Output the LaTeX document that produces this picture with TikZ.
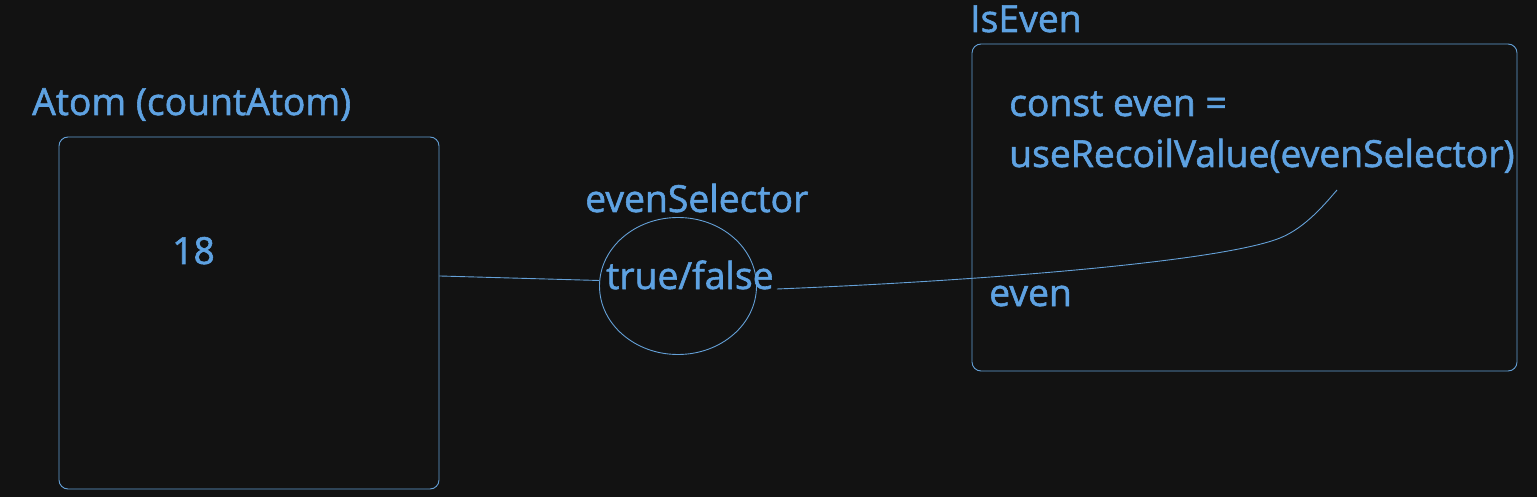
\documentclass[tikz,border=0pt]{standalone}
\usepackage{fontspec}
\newfontfamily\drawfont{Open Sans}[FakeBold=1.5]
\usetikzlibrary{shapes.geometric}
\definecolor{bg}{RGB}{18,18,18}
\definecolor{ink}{RGB}{94,162,226}
\definecolor{edge}{RGB}{100,160,215}
\tikzset{
  lbl/.style={anchor=base west,inner sep=0pt,text=ink,font=\drawfont\fontsize{37.3}{44}\selectfont},
  boxshape/.style={draw=edge,line width=0.9pt,rounded corners=9pt,inner sep=0pt},
  conn/.style={draw=edge,line width=0.9pt},
}
\begin{document}
\begin{tikzpicture}[x=1pt,y=-1pt]
\fill[bg] (0,0) rectangle (1537,497);
\useasboundingbox (0,0) rectangle (1537,497);
% left atom box
\node[lbl] (atomtitle) at (32,115) {Atom (countAtom)};
\node[boxshape,minimum width=380pt,minimum height=352pt] (atom) at (249,313) {};
\node[lbl] (num) at (172,264) {18};
% selector
\node[lbl] (seltitle) at (585,212) {evenSelector};
\node[draw=edge,line width=0.9pt,ellipse,minimum width=157pt,minimum height=137pt,inner sep=0pt] (sel) at (678,286) {};
\node[lbl] (tf) at (606,289) {true/false};
% right box
\node[lbl] (eventitle) at (970,32) {IsEven};
\node[boxshape,minimum width=545pt,minimum height=327pt] (isev) at (1244.5,207.5) {};
\node[lbl] (code1) at (1009,116) {const even =};
\node[lbl] (code2) at (1009,167) {useRecoilValue(evenSelector)};
\node[lbl] (evenlbl) at (989,306) {even};
\coordinate (hook) at (1337,190);
% connectors
\draw[conn] (atom.11) -- (sel.176);
\draw[conn] ([xshift=3pt]tf.base east) .. controls (977,281) and (1220,262) .. (1280,238) .. controls (1305,228) and (1325,204) .. (hook);
\end{tikzpicture}
\end{document}
